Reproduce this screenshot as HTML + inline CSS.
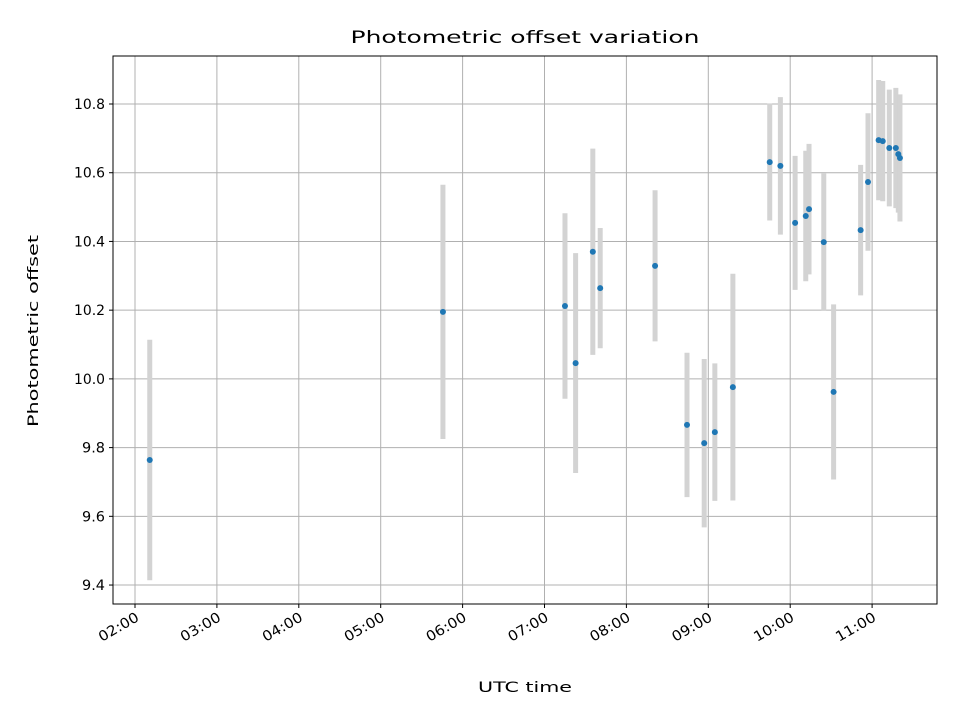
<!DOCTYPE html>
<html><head><meta charset="utf-8"><style>
body{margin:0;background:#fff;font-family:"Liberation Sans","DejaVu Sans",sans-serif}
svg text{font-family:"DejaVu Sans","Liberation Sans",sans-serif;fill:#000}
</style></head><body>
<svg id="chart" width="960" height="720" viewBox="0 0 960 720">
<rect width="960" height="720" fill="#fff"/>
<g id="grid"></g><g id="bars"></g><g id="pts"></g><g id="axes"></g>
<text x="525" y="43" font-size="17" text-anchor="middle" textLength="349" lengthAdjust="spacingAndGlyphs">Photometric offset variation</text>
<text x="525" y="692" font-size="14" text-anchor="middle" textLength="94" lengthAdjust="spacingAndGlyphs">UTC time</text>
<text transform="translate(38,331) rotate(-90)" font-size="14" text-anchor="middle" textLength="192" lengthAdjust="spacingAndGlyphs">Photometric offset</text>
</svg>
<script>
const hours=[2.18,5.76,7.25,7.38,7.59,7.68,8.35,8.74,8.95,9.08,9.30,9.75,9.88,10.06,10.19,10.23,10.41,10.53,10.86,10.95,11.08,11.13,11.21,11.29,11.32,11.34];
const offsets=[9.764,10.195,10.212,10.046,10.37,10.264,10.329,9.866,9.813,9.845,9.976,10.631,10.62,10.454,10.474,10.494,10.398,9.962,10.433,10.573,10.695,10.692,10.672,10.672,10.654,10.643];
const errors=[0.35,0.37,0.27,0.32,0.30,0.175,0.22,0.21,0.245,0.2,0.33,0.17,0.2,0.195,0.19,0.19,0.2,0.255,0.19,0.2,0.175,0.175,0.17,0.175,0.17,0.185];
const xTicks=[2,3,4,5,6,7,8,9,10,11];
const xTickLabels=["02:00","03:00","04:00","05:00","06:00","07:00","08:00","09:00","10:00","11:00"];
const yTicks=[9.4,9.6,9.8,10.0,10.2,10.4,10.6,10.8];
const yTickLabels=["9.4","9.6","9.8","10.0","10.2","10.4","10.6","10.8"];
const L=113,R=937,T=56,B=604;
const xs=h=>135+(h-2)*81.9;
const ys=v=>104+(10.8-v)*343.6;
const NS="http://www.w3.org/2000/svg";
function mk(tag,attrs,parent){const e=document.createElementNS(NS,tag);for(const k in attrs)e.setAttribute(k,attrs[k]);document.getElementById(parent).appendChild(e);return e;}
xTicks.forEach((t,i)=>{const x=xs(t);
 const g=mk('line',{x1:x,x2:x,y1:T,y2:B,stroke:'#b0b0b0','stroke-width':1},'grid');
 
 
 const tk=mk('line',{x1:x,x2:x,y1:B,y2:B+4,stroke:'#000','stroke-width':1},'axes');
 
 
 const tx=mk('text',{x:0,y:0,'font-size':14,'text-anchor':'end',textLength:44,lengthAdjust:'spacingAndGlyphs',transform:`translate(${x+5},${B+16}) rotate(-30)`},'axes');
 tx.textContent=xTickLabels[i];
 
 
});
yTicks.forEach((t,i)=>{const y=ys(t);
 const g=mk('line',{x1:L,x2:R,y1:y,y2:y,stroke:'#b0b0b0','stroke-width':1},'grid');
 
 
 const tk=mk('line',{x1:L-4,x2:L,y1:y,y2:y,stroke:'#000','stroke-width':1},'axes');
 
 
 const tx=mk('text',{x:L-8,y:y+5,'font-size':14,'text-anchor':'end',textLength:yTickLabels[i].length>3?31:23,lengthAdjust:'spacingAndGlyphs'},'axes');
 tx.textContent=yTickLabels[i];
 
 
});
const fr=mk('rect',{x:L,y:T,width:R-L,height:B-T,fill:'none',stroke:'#000','stroke-width':1},'axes');


hours.forEach((h,i)=>{const x=xs(h);
 const b=mk('line',{x1:x,x2:x,y1:ys(offsets[i]+errors[i]),y2:ys(offsets[i]-errors[i]),stroke:'#d3d3d3','stroke-width':5},'bars');
 
 
 const c=mk('circle',{cx:x,cy:ys(offsets[i]),r:3,fill:'#1f77b4'},'pts');
 
 
});
</script>
</body></html>
